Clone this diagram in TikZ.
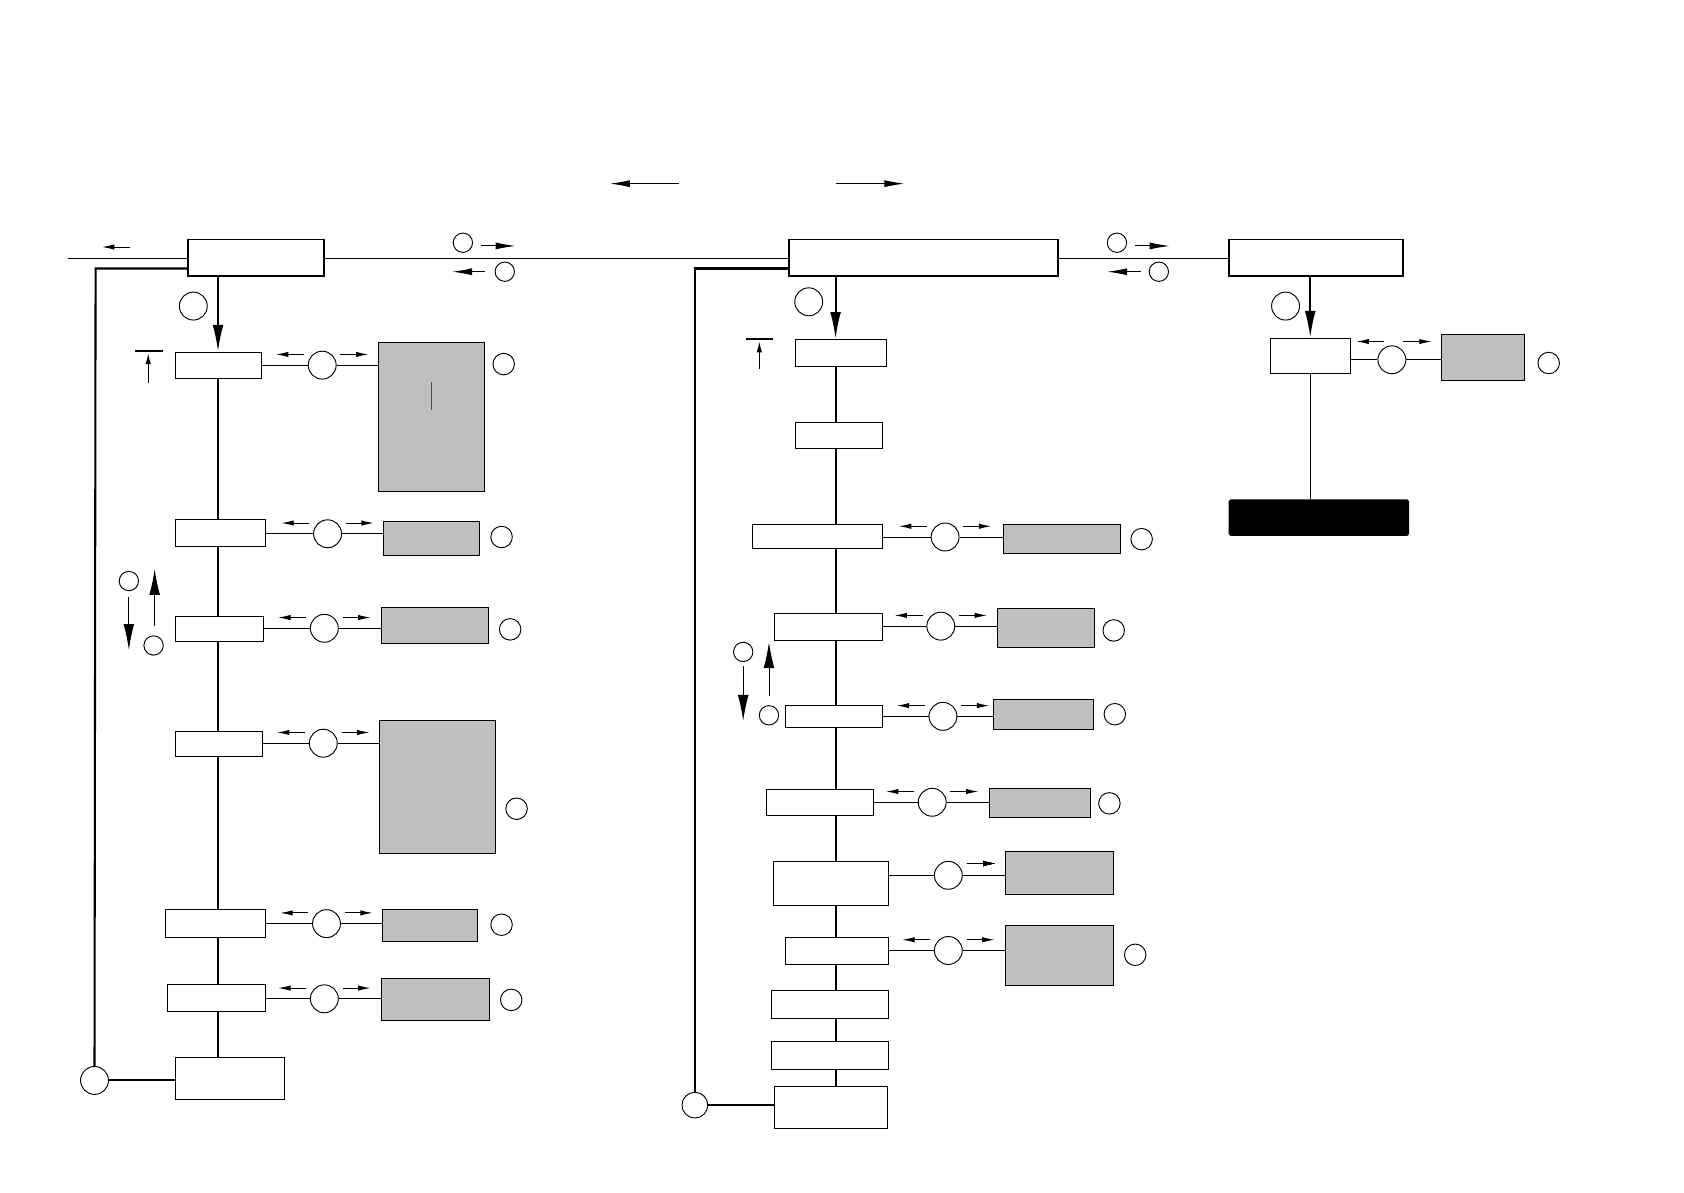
\documentclass[tikz,border=0pt]{standalone}
\usepackage{tikz}
\usetikzlibrary{arrows.meta,positioning,calc,fit}
\definecolor{panelGray}{HTML}{BFBFBF}

\tikzset{
  wbox/.style={draw, fill=white, inner sep=0pt, line width=0.5pt},
  mainbox/.style={wbox, line width=1pt},
  gbox/.style={draw, fill=panelGray, inner sep=0pt, line width=0.5pt},
  ring/.style={draw, circle, fill=white, inner sep=0pt, minimum size=0.52cm, line width=0.5pt},
  tag/.style={draw, circle, inner sep=0pt, minimum size=0.4cm, line width=0.5pt},
  sarr/.style={-{Latex[length=0.23cm,width=0.1cm]}, line width=0.5pt},
  larr/.style={-{Latex[length=0.37cm,width=0.13cm]}, line width=0.5pt},
  barr/.style={-{Latex[length=0.5cm,width=0.2cm]}, line width=1.1pt},
  spine/.style={line width=1.1pt}
}
% two small arrows over a ring
\newcommand{\sidearrows}[1]{%
  \draw[sarr] ([shift={(-17,-10)}]#1.center) -- ++(-26,0);
  \draw[sarr] ([shift={(17,-10)}]#1.center) -- ++(26,0);}

\begin{document}
\begin{tikzpicture}[x=0.02cm, y=-0.02cm]
\useasboundingbox (0,0) rectangle (1568,1110);

% top direction arrows
\coordinate (dl) at (632,171);
\coordinate (dr) at (778,171);
\draw[larr] (dl) -- ++(-64,0);
\draw[larr] (dr) -- ++(64,0);

% main boxes
\node[mainbox, fit={(175,223) (302,257)}] (A) {};
\node[mainbox, fit={(735,223) (985,257)}] (B) {};
\node[mainbox, fit={(1144,223) (1306,257)}] (C) {};
\coordinate (in) at (63,241);
\draw (in) -- (A.west |- in);
\draw (A.east |- in) -- (B.west |- in);
\draw (B.east |- in) -- (C.west |- in);
\draw[sarr] (121,230) -- (95,230);

% between A and B
\node[tag, minimum size=0.36cm] (tAB1) at (431,226) {};
\node[tag, minimum size=0.36cm] (tAB2) at (470,253) {};
\draw[larr] ([shift={(17,3)}]tAB1.center) -- ++(32,0);
\draw[larr] ([shift={(-18,0)}]tAB2.center) -- ++(-31,0);
% between B and C
\node[tag, minimum size=0.36cm] (tBC1) at (1040,226) {};
\node[tag, minimum size=0.36cm] (tBC2) at (1079,253) {};
\draw[larr] ([shift={(17,3)}]tBC1.center) -- ++(32,0);
\draw[larr] ([shift={(-17,0)}]tBC2.center) -- ++(-31,0);

% ---------------- left column
\coordinate (spL) at (203,0);
\node[wbox, fit={(163,328) (243,352)}] (L1) {};
\node[wbox, fit={(163,484) (247,509)}] (L2) {};
\node[wbox, fit={(163,574) (245,597)}] (L3) {};
\node[wbox, fit={(163,681) (244,704)}] (L4) {};
\node[wbox, fit={(154,847) (247,873)}] (L5) {};
\node[wbox, fit={(156,917) (247,942)}] (L6) {};
\node[wbox, fit={(163,985) (265,1024)}] (L7) {};

\node[gbox, fit={(352,319) (451,458)}] (gL1) {};
\node[gbox, fit={(357,486) (446,517)}] (gL2) {};
\node[gbox, fit={(355,566) (455,599)}] (gL3) {};
\node[gbox, fit={(353,671) (461,795)}] (gL4) {};
\node[gbox, fit={(356,847) (445,877)}] (gL5) {};
\node[gbox, fit={(355,911) (456,950)}] (gL6) {};
\draw[black!70, line width=0.4pt] (402,356) -- (402,382);

\node[ring] (rL1) at (300,340) {};
\node[ring] (rL2) at (305,497) {};
\node[ring] (rL3) at (302,585) {};
\node[ring] (rL4) at (301,692) {};
\node[ring] (rL5) at (304,860) {};
\node[ring] (rL6) at (302,930) {};

\node[tag] at (469,339) {};
\node[tag] at (467,500) {};
\node[tag] at (475,586) {};
\node[tag] at (481,753) {};
\node[tag] at (467,861) {};
\node[tag] at (476,931) {};

\foreach \i in {1,...,6} {
  \draw[line width=0.5pt] (L\i.east |- rL\i) -- (rL\i) -- (rL\i -| gL\i.west);
  \sidearrows{rL\i}
}

\draw[barr] (A.south -| spL) -- (L1.north -| spL);
\node[ring] (tA) at (180,285) {};
\foreach \a/\b in {L1/L2,L2/L3,L3/L4,L4/L5,L5/L6,L6/L7}
  \draw[spine] (\a.south -| spL) -- (\b.north -| spL);

% marks beside left column
\draw[line width=1pt] (126,327) -- (152,327);
\draw[-{Latex[length=0.2cm,width=0.1cm]}, line width=0.5pt] (138,357) -- (138,329);
\node[tag, minimum size=0.36cm] (ud1) at (120,541) {};
\node[tag, minimum size=0.36cm] (ud2) at (143,601) {};
\draw[-{Latex[length=0.48cm,width=0.2cm]}, line width=0.5pt] (ud1.south) ++(0,5) -- (120,605);
\draw[-{Latex[length=0.48cm,width=0.2cm]}, line width=0.5pt] (144,583) -- (144,530);

% feedback, left
\coordinate (fbA) at (89,250);
\node[ring] (fL) at (88,1006) {};
\draw[spine] (A.west |- fbA) -- (fbA) -- (fL.north);
\draw[spine] (fL) -- (L7.west |- fL);

% ---------------- middle column
\coordinate (spM) at (778,0);
\node[wbox, fit={(741,316) (825,341)}] (M1) {};
\node[wbox, fit={(741,393) (822,418)}] (M2) {};
\node[wbox, fit={(701,488) (822,511)}] (M3) {};
\node[wbox, fit={(721,571) (822,596)}] (M4) {};
\node[wbox, fit={(731,657) (822,677)}] (M5) {};
\node[wbox, fit={(714,735) (813,759)}] (M6) {};
\node[wbox, fit={(720,802) (827,843)}] (M7) {};
\node[wbox, fit={(731,873) (827,898)}] (M8) {};
\node[wbox, fit={(718,922) (827,948)}] (M9) {};
\node[wbox, fit={(718,970) (827,996)}] (M10) {};
\node[wbox, fit={(721,1012) (826,1051)}] (M11) {};

\node[gbox, fit={(934,488) (1043,515)}] (gM3) {};
\node[gbox, fit={(929,567) (1019,603)}] (gM4) {};
\node[gbox, fit={(925,651) (1018,679)}] (gM5) {};
\node[gbox, fit={(921,734) (1015,761)}] (gM6) {};
\node[gbox, fit={(936,793) (1037,833)}] (gM7) {};
\node[gbox, fit={(936,862) (1037,918)}] (gM8) {};

\node[ring] (rM3) at (880,500) {};
\node[ring] (rM4) at (876,583) {};
\node[ring] (rM5) at (878,667) {};
\node[ring] (rM6) at (868,747) {};
\node[ring] (rM7) at (883,815) {};
\node[ring] (rM8) at (883,885) {};

\node[tag] at (1063,502) {};
\node[tag] at (1037,587) {};
\node[tag] at (1038,665) {};
\node[tag] at (1033,748) {};
\node[tag] at (1057,889) {};

\foreach \i in {3,...,8}
  \draw[line width=0.5pt] (M\i.east |- rM\i) -- (rM\i) -- (rM\i -| gM\i.west);
\foreach \i in {3,4,5,6,8}
  \sidearrows{rM\i}
\draw[sarr] ([shift={(17,-11)}]rM7.center) -- ++(27,0);

\draw[barr] (B.south -| spM) -- (M1.north -| spM);
\node[ring] (tB) at (753,281) {};
\foreach \a/\b in {M1/M2,M2/M3,M3/M4,M4/M5,M5/M6,M6/M7,M7/M8,M8/M9,M9/M10,M10/M11}
  \draw[spine] (\a.south -| spM) -- (\b.north -| spM);

% marks beside middle column
\draw[line width=1pt] (695,316) -- (720,316);
\draw[-{Latex[length=0.2cm,width=0.1cm]}, line width=0.5pt] (707,344) -- (707,318);
\node[tag, minimum size=0.36cm] (ud3) at (692,607) {};
\node[tag, minimum size=0.36cm] (ud4) at (716,666) {};
\draw[-{Latex[length=0.48cm,width=0.2cm]}, line width=0.5pt] (692,620) -- (692,671);
\draw[-{Latex[length=0.48cm,width=0.2cm]}, line width=0.5pt] (716,648) -- (716,598);

% feedback, middle
\coordinate (fbB) at (647,250);
\node[ring, minimum size=0.48cm] (fM) at (647,1029) {};
\draw[spine] (B.west |- fbB) -- (fbB) -- (fM.north);
\draw[spine] (fM) -- (M11.west |- fM);

% ---------------- right column
\node[wbox, fit={(1183,315) (1257,348)}] (R1) {};
\node[gbox, fit={(1342,311) (1419,354)}] (gR1) {};
\node[ring] (rR1) at (1296,335) {};
\node[tag] at (1442,338) {};
\draw[line width=0.5pt] (R1.east |- rR1) -- (rR1) -- (rR1 -| gR1.west);
\draw[sarr] (1289,318) -- (1263,318);
\draw[sarr] (1306,318) -- (1333,318);
\draw[barr] (R1.north |- C.south) -- (R1.north);
\node[ring] (tC) at (1197,285) {};
\node[fill=black, rounded corners=1pt, inner sep=0pt, fit={(1144,465) (1312,499)}] (K) {};
\draw[line width=0.5pt] (R1.south) -- (K.north -| R1.south);

\end{tikzpicture}
\end{document}
